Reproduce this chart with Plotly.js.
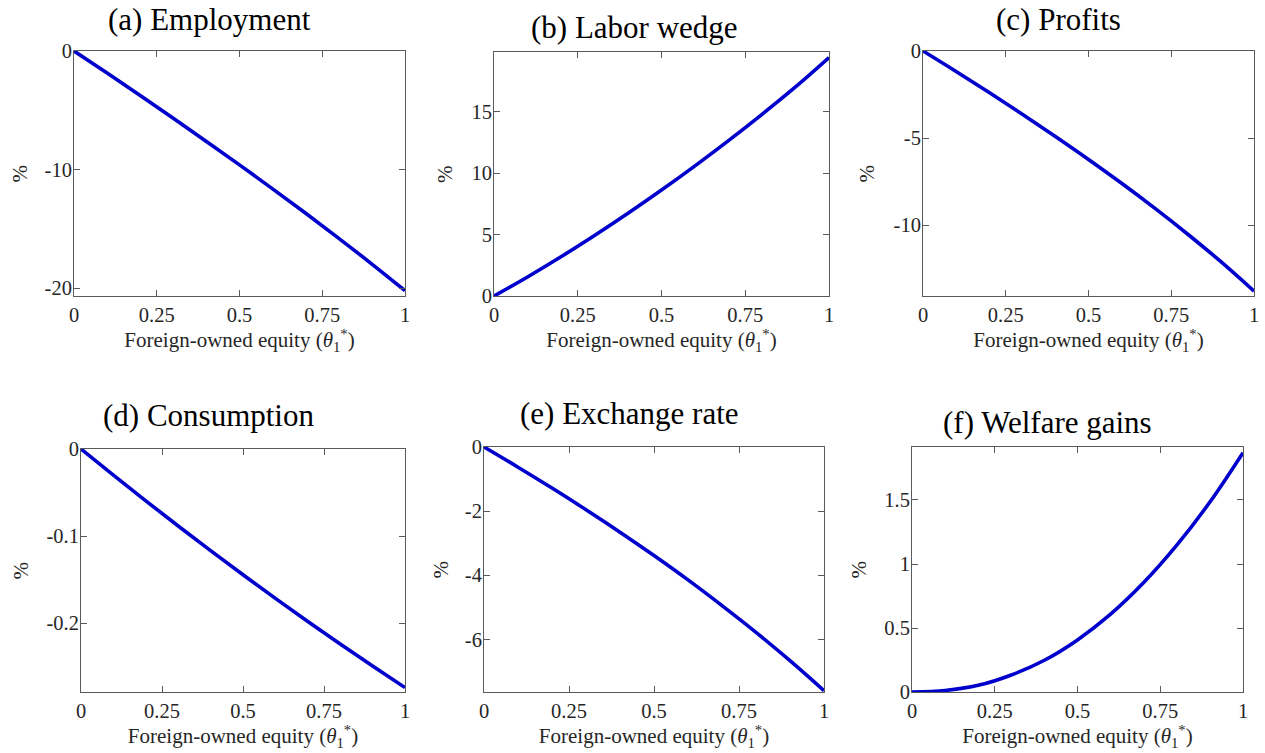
<!DOCTYPE html>
<html><head><meta charset="utf-8">
<script src="https://cdn.plot.ly/plotly-3.0.1.min.js"></script>
<style>html,body{margin:0;padding:0;background:#fff}#chart{width:1265px;height:753px}</style>
</head><body><div id="chart"></div>
<script>
// ---- data ----
const theta = [0, 0.1, 0.2, 0.3, 0.4, 0.5, 0.6, 0.7, 0.8, 0.9, 1.0];
const employment = [0, -1.86, -3.75, -5.67, -7.62, -9.6, -11.62, -13.68, -15.79, -17.96, -20.2];
const laborWedge = [0, 1.55, 3.19, 4.92, 6.73, 8.62, 10.59, 12.64, 14.78, 17.01, 19.4];
const profits = [0, -1.18, -2.39, -3.63, -4.91, -6.23, -7.6, -9.03, -10.53, -12.11, -13.8];
const consumption = [0, -0.0300, -0.0595, -0.0884, -0.1167, -0.1444, -0.1715, -0.1980, -0.2239, -0.2492, -0.2739];
const exchangeRate = [0, -0.63, -1.28, -1.955, -2.655, -3.385, -4.145, -4.945, -5.78, -6.665, -7.60];
const welfareGains = [0, 0.012, 0.052, 0.133, 0.248, 0.407, 0.608, 0.855, 1.147, 1.484, 1.87];

const panelTitles = ['(a) Employment', '(b) Labor wedge', '(c) Profits', '(d) Consumption', '(e) Exchange rate', '(f) Welfare gains'];
const xTickVals = [0, 0.25, 0.5, 0.75, 1];
const xTickText = ['0', '0.25', '0.5', '0.75', '1'];
const yTickVals = [[-20, -10, 0], [0, 5, 10, 15], [-10, -5, 0], [-0.2, -0.1, 0], [-6, -4, -2, 0], [0, 0.5, 1, 1.5]];
const yTickText = [['-20', '-10', '0'], ['0', '5', '10', '15'], ['-10', '-5', '0'], ['-0.2', '-0.1', '0'], ['-6', '-4', '-2', '0'], ['0', '0.5', '1', '1.5']];
const yRanges = [[-20.65, 0], [0, 19.85], [-14.08, 0], [-0.279, 0], [-7.64, 0], [0, 1.914]];
const xLabel = 'Foreign-owned equity (<i>θ</i><sub>1</sub><sup>*</sup>)';
const yLabel = '%';
const series = [employment, laborWedge, profits, consumption, exchangeRate, welfareGains];

// ---- layout geometry (pixels) ----
const W = 1265, H = 753;
const boxes = [
  [74, 405, 51, 296], [494, 829, 52, 296], [923, 1254, 51, 296],
  [81, 405, 449, 692], [484, 824, 447, 692], [912, 1243, 447, 692]
];
const titlePos = [[209, 20], [634, 28], [1058, 20], [208, 416], [629, 414], [1047, 423]];
const yLabelX = [19, 445, 866, 20, 440, 858];

const FONT = 'Liberation Serif, Times New Roman, serif';
const AXC = '#5a5a5a';
const TXC = '#262626';

const data = [];
const layout = {
  width: W, height: H,
  margin: {l: 0, r: 0, t: 0, b: 0},
  paper_bgcolor: '#ffffff', plot_bgcolor: '#ffffff',
  showlegend: false,
  font: {family: FONT, color: TXC, size: 20},
  annotations: []
};

for (let i = 0; i < 6; i++) {
  const n = i === 0 ? '' : String(i + 1);
  const [x0, x1, y0, y1] = boxes[i];
  data.push({
    type: 'scatter', mode: 'lines', x: theta, y: series[i],
    xaxis: 'x' + n, yaxis: 'y' + n,
    line: {color: '#0000CC', width: 3.6, shape: 'spline', smoothing: 1},
    hoverinfo: 'x+y'
  });
  const common = {
    showline: true, linecolor: AXC, linewidth: 1, mirror: 'ticks',
    ticks: 'inside', ticklen: 6, tickcolor: AXC, tickwidth: 1,
    showgrid: false, zeroline: false,
    tickfont: {family: FONT, size: 20.5, color: TXC}
  };
  layout['xaxis' + n] = Object.assign({}, common, {
    domain: [x0 / W, x1 / W], range: [0, 1], anchor: 'y' + n,
    tickmode: 'array', tickvals: xTickVals, ticktext: xTickText,
    title: {text: xLabel, font: {family: FONT, size: 21, color: TXC}, standoff: 6}
  });
  layout['yaxis' + n] = Object.assign({}, common, {
    domain: [1 - y1 / H, 1 - y0 / H], range: yRanges[i], anchor: 'x' + n,
    tickmode: 'array', tickvals: yTickVals[i], ticktext: yTickText[i],
    ticklabelstandoff: -3
  });
  layout.annotations.push({
    text: panelTitles[i], xref: 'paper', yref: 'paper',
    x: titlePos[i][0] / W, y: 1 - titlePos[i][1] / H,
    xanchor: 'center', yanchor: 'middle', showarrow: false,
    font: {family: FONT, size: 31, color: '#000'}
  });
  layout.annotations.push({
    text: yLabel, xref: 'paper', yref: 'paper',
    x: yLabelX[i] / W, y: 1 - ((y0 + y1) / 2) / H,
    xanchor: 'center', yanchor: 'middle', showarrow: false, textangle: -90,
    font: {family: FONT, size: 21, color: TXC}
  });
}

Plotly.newPlot('chart', data, layout, {displayModeBar: false});
</script>
</body></html>
